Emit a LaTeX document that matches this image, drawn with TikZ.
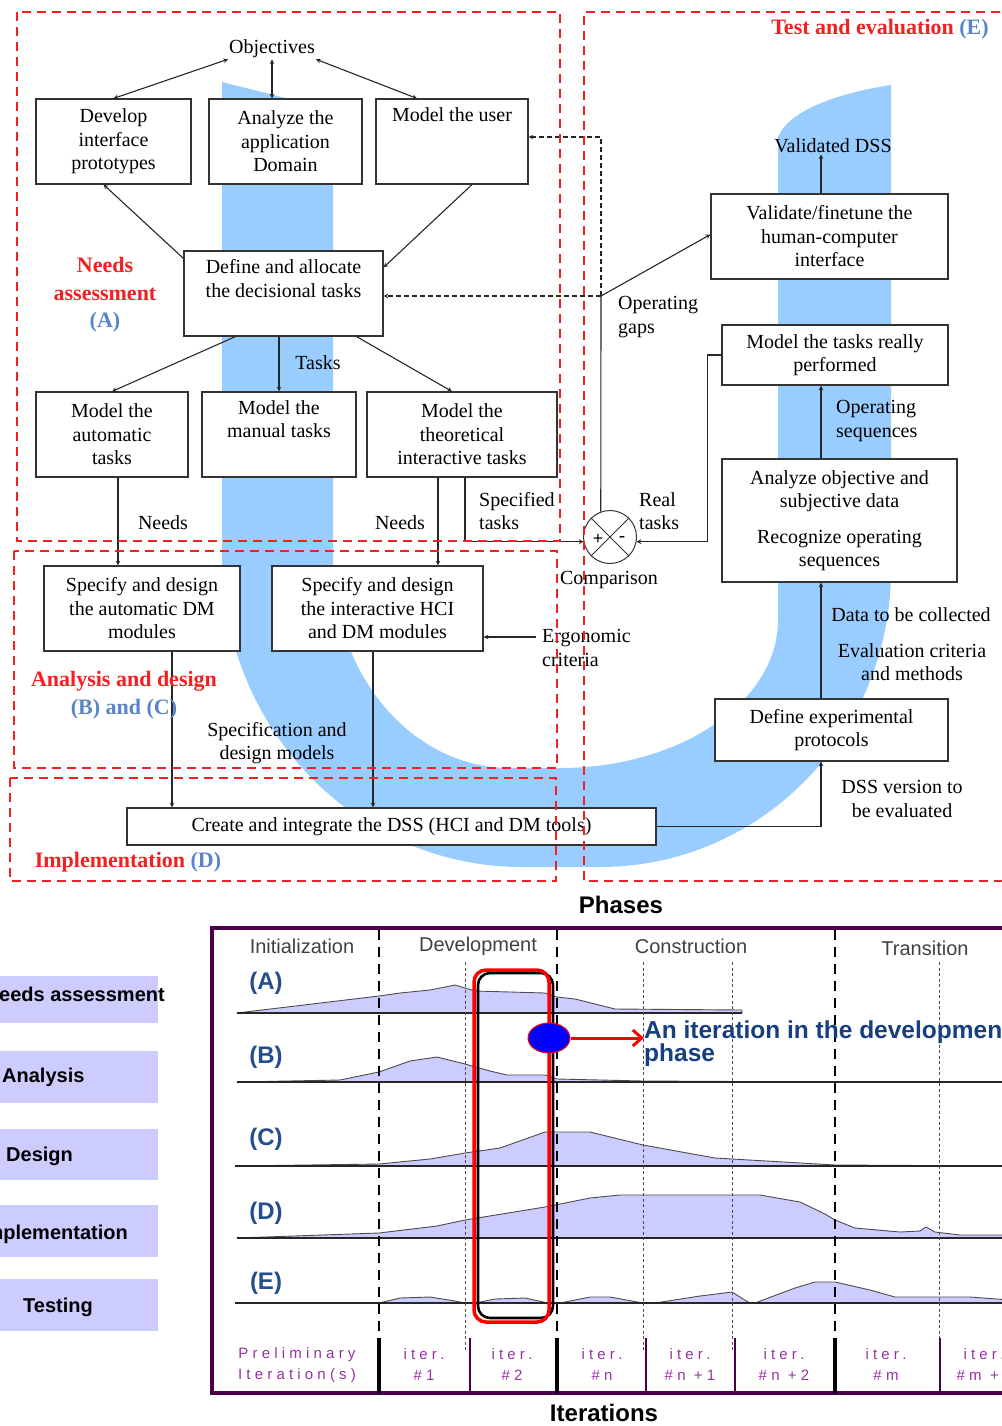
\documentclass[tikz,border=0pt]{standalone}
\usepackage{fontspec}
\usepackage{xcolor}
\setmainfont{Liberation Serif}
\setsansfont{Liberation Sans}
\newfontfamily\iterfont[LetterSpace=28]{Liberation Sans}
\usetikzlibrary{arrows.meta,shapes.geometric}

\definecolor{zonered}{RGB}{242,32,32}
\definecolor{zoneblue}{RGB}{88,132,200}
\definecolor{bandblue}{RGB}{153,204,255}
\definecolor{lavender}{RGB}{204,204,255}
\definecolor{framepurple}{RGB}{75,0,75}
\definecolor{iterpurple}{RGB}{150,50,160}
\definecolor{rowblue}{RGB}{38,78,140}
\definecolor{notenavy}{RGB}{22,62,128}

\begin{document}
\begin{tikzpicture}[
    x=1pt, y=-1pt,
    box/.style={
        rectangle, draw=black!80, line width=1.1pt,
        fill=white, inner sep=0pt,
        align=center,
        font=\fontsize{20}{23.5}\selectfont   % text of the boxes
    },
    txt/.style={align=center, inner sep=1pt, font=\fontsize{20}{23.5}\selectfont},
    ltxt/.style={txt, align=left, anchor=west},
    zone/.style={draw=zonered, line width=2.2pt, dash pattern=on 9pt off 6pt},
    zonetxt/.style={align=center, text=zonered, font=\fontsize{22}{27.5}\selectfont\bfseries},
    arrow/.style={->, >=stealth, line width=1.1pt, draw=black!85},
    twoway/.style={arrow, <->},
    gapline/.style={arrow, dash pattern=on 5pt off 3pt},
    lane/.style={fill=lavender},
    lanetxt/.style={inner sep=0pt, font=\sffamily\bfseries\fontsize{20}{24}\selectfont},
    phasetxt/.style={text=black!75, font=\sffamily\fontsize{20}{24}\selectfont},
    rowtxt/.style={text=rowblue, font=\sffamily\bfseries\fontsize{24}{27}\selectfont},
    itertxt/.style={align=center, text=iterpurple, font=\iterfont\fontsize{15}{21}\selectfont},
    loadcurve/.style={fill=lavender, draw=black!70, line width=0.9pt, line join=round},
    rowbase/.style={line width=1.5pt, draw=black!85},
    phasedash/.style={line width=2.6pt, dash pattern=on 10pt off 7pt},
    iterdot/.style={line width=1pt, draw=black!70, dash pattern=on 3pt off 2.5pt},
    phasetick/.style={line width=4.5pt, draw=black},
    itertick/.style={line width=2.4pt, draw=framepurple}
]
\useasboundingbox (0,0) rectangle (1001,1426);

% --- U band (background) ---
\fill[bandblue] (222,82) -- (222,557)
    .. controls (222,728) and (356,867) .. (522,867) -- (600,867)
    .. controls (761,867) and (891,734) .. (891,570) -- (891,85)
    .. controls (845,92) and (790,108) .. (778,137) -- (778,620)
    .. controls (778,702) and (680,768) .. (560,768) -- (510,768)
    .. controls (412,768) and (333,675) .. (333,560) -- (333,110) -- cycle;

% --- Needs assessment (A) ---
\node[txt] (obj) at (272,49) {Objectives};
\node[box, minimum width=155pt, minimum height=85pt] (proto) at (113.5,141.5) {Develop\\interface\\prototypes};
\node[box, minimum width=153pt, minimum height=85pt] (domain) at (285.5,141.5) {Analyze the\\application\\Domain};
\node[box, minimum width=152pt, minimum height=85pt] (user) at (452,141.5) {Model the user\\ \strut\\ \strut};
\node[box, minimum width=199pt, minimum height=85pt] (alloc) at (283.5,293.5) {Define and allocate\\the decisional tasks\\ \strut};
\node[box, minimum width=152pt, minimum height=85pt] (auto) at (112,434.5) {Model the\\automatic\\tasks};
\node[box, minimum width=154pt, minimum height=85pt] (manual) at (279,434.5) {Model the\\manual tasks\\ \strut};
\node[box, minimum width=190pt, minimum height=85pt] (theo) at (462,434.5) {Model the\\theoretical\\interactive tasks};

% --- Analysis and design (B, C), implementation (D) ---
\node[box, minimum width=196pt, minimum height=85pt] (specdm) at (142,608.5) {Specify and design\\the automatic DM\\modules};
\node[box, minimum width=211pt, minimum height=85pt] (spechci) at (377.5,608.5) {Specify and design\\the interactive HCI\\and DM modules};
\node[box, minimum width=529pt, minimum height=37pt] (create) at (391.5,826.5) {Create and integrate the DSS (HCI and DM tools)};

% --- Test and evaluation (E) ---
\node[txt] (dss) at (833,146) {Validated DSS};
\node[box, minimum width=237pt, minimum height=85pt] (validate) at (829.5,236.5) {Validate/finetune the\\human-computer\\interface};
\node[box, minimum width=226pt, minimum height=60pt] (real) at (835,355) {Model the tasks really\\performed};
\node[box, minimum width=235pt, minimum height=123pt] (analyze) at (839.5,520.5) {Analyze objective and\\subjective data\\[12pt]Recognize operating\\sequences};
\node[box, minimum width=233pt, minimum height=62pt] (protocols) at (831.5,730) {Define experimental\\protocols};

% --- Comparison ---
\node[circle, draw=black!80, line width=1pt, fill=white, minimum size=53pt, inner sep=0pt] (comp) at (610,537) {};
\draw[line width=0.8pt, black!80] (comp.45) -- (comp.225) (comp.135) -- (comp.315);
\node[font=\bfseries\fontsize{18}{18}\selectfont] (plus) at (598,539) {+};
\node[font=\bfseries\fontsize{18}{18}\selectfont] (minus) at (622,539) {-};
\node[txt] (compare) at (609,580) {Comparison};

% --- Arrows ---
\draw[twoway] (obj.south west) -- (proto.north);
\draw[twoway] (obj.south) -- (obj.south |- domain.north);
\draw[twoway] (obj.south east) -- ([xshift=-35pt]user.north);
\draw[arrow] ([yshift=-8pt]alloc.north west) -- ([xshift=-10pt]proto.south);
\draw[arrow] ([xshift=20pt]user.south) -- ([yshift=-17pt]alloc.north east);
\draw[arrow] ([xshift=-48pt]alloc.south) -- (auto.north);
\draw[arrow] (alloc.south -| manual.north) -- (manual.north);
\draw[arrow] ([xshift=73pt]alloc.south) -- ([xshift=-10pt]theo.north);

\coordinate (gap) at (601,296);
\draw[gapline] (gap) -- (gap -| alloc.east);
\draw[gapline] (gap) |- ([yshift=4.5pt]user.east);
\draw[arrow] (gap) -- ([yshift=2pt]validate.west);
\draw[line width=1.1pt, black!85] (gap) -- (comp.110);

\draw[arrow] ([xshift=3pt]theo.south) |- (comp.190);   % specified tasks
\draw[arrow] (real.west) -- ++(-14,0) |- (comp.350);  % real tasks
\draw[arrow] ([xshift=6pt]auto.south) -- ([xshift=6pt]auto.south |- specdm.north);
\draw[arrow] ([xshift=-24pt]theo.south) -- ([xshift=-24pt]theo.south |- spechci.north);
\draw[arrow] ([xshift=30pt]specdm.south) -- ([xshift=30pt]specdm.south |- create.north);
\draw[arrow] ([xshift=-4.5pt]spechci.south) -- ([xshift=-4.5pt]spechci.south |- create.north);
\coordinate (ergo) at (536,637);
\draw[arrow] (ergo) -- (ergo -| spechci.east);

\coordinate (spine) at (821,0);
\draw[arrow] (create.east) -| (spine |- protocols.south);
\draw[arrow] (protocols.north -| spine) -- (analyze.south -| spine);
\draw[arrow] (analyze.north -| spine) -- (real.south -| spine);
\draw[arrow] (validate.north -| spine) -- (dss.south -| spine);

% --- Labels on the arrows ---
\node[txt] (tasks) at (318,363) {Tasks};
\node[txt] (needsa) at (163,523) {Needs};
\node[txt] (needsb) at (400,523) {Needs};
\node[ltxt] (spectasks) at (478,511) {Specified\\tasks};
\node[ltxt] (realtasks) at (638,511) {Real\\tasks};
\node[ltxt] (gaps) at (617,317) {Operating\\gaps};
\node[ltxt] (seqs) at (835,421) {Operating\\sequences};
\node[txt] (collect) at (911,615) {Data to be collected};
\node[txt] (criteria) at (912,662) {Evaluation criteria\\and methods};
\node[txt] (version) at (902,799) {DSS version to\\be evaluated};
\node[ltxt] (ergonomic) at (541,648) {Ergonomic\\criteria};
\node[txt] (models) at (277,743) {Specification and\\design models};

% --- Red dashed zones ---
\draw[zone] (17,12) rectangle (560,541);
\draw[zone] (1015,12) -- (584,12) -- (584,881) -- (1015,881);
\draw[zone] (14,551) rectangle (557,768);
\draw[zone] (10,778) rectangle (556,881);
\node[zonetxt] (zonea) at (105,295) {Needs\\assessment\\\textcolor{zoneblue}{(A)}};
\node[zonetxt] (zonebc) at (124,695) {Analysis and design\\\textcolor{zoneblue}{(B) and (C)}};
\node[zonetxt] (zoned) at (128,862) {Implementation \textcolor{zoneblue}{(D)}};
\node[zonetxt] (zonee) at (880,29) {Test and evaluation \textcolor{zoneblue}{(E)}};

% --- Phases and iterations chart ---
\node[font=\sffamily\bfseries\fontsize{24}{28}\selectfont] (phases) at (621,905) {Phases};
\node[font=\sffamily\bfseries\fontsize{24}{28}\selectfont] (iters) at (604,1413) {Iterations};

\fill[lane] (-10,976) rectangle (158,1023);
\fill[lane] (-10,1051) rectangle (158,1103);
\fill[lane] (-10,1129) rectangle (158,1180);
\fill[lane] (-10,1205) rectangle (158,1257);
\fill[lane] (-10,1279) rectangle (158,1331);
\node[lanetxt, anchor=base east] (needslane) at (165,1001) {Needs assessment};
\node[lanetxt, anchor=base west] (analane) at (2,1082) {Analysis};
\node[lanetxt, anchor=base west] (designlane) at (6,1161) {Design};
\node[lanetxt, anchor=base east] (impllane) at (128,1239) {Implementation};
\node[lanetxt, anchor=base west] (testlane) at (23,1312) {Testing};

% curves (A) to (E)
\draw[loadcurve] (237,1013) -- (379,996) -- (400,993) -- (430,990) -- (455,985) -- (465,988) -- (475,991)
    -- (545,993) -- (557,997) -- (575,999) -- (615,1009) -- (742,1010) -- (742,1013) -- cycle;
\draw[loadcurve] (237,1082) -- (340,1080) -- (379,1072) -- (410,1061) -- (437,1057) -- (465,1064) -- (490,1071)
    -- (507,1075) -- (545,1075) -- (557,1079) -- (643,1081) -- (835,1082) -- cycle;
\draw[loadcurve] (237,1166) -- (379,1164) -- (430,1159) -- (465,1153) -- (500,1148) -- (545,1132) -- (590,1132)
    -- (643,1145) -- (715,1158) -- (835,1165) -- (1010,1166) -- cycle;
\draw[loadcurve] (237,1238) -- (379,1233) -- (437,1226) -- (465,1220) -- (545,1207) -- (590,1198) -- (620,1195)
    -- (760,1195) -- (800,1202) -- (825,1214) -- (835,1220) -- (855,1228) -- (900,1232) -- (920,1231)
    -- (926,1227) -- (935,1232) -- (960,1235) -- (1010,1235) -- (1010,1238) -- cycle;
\draw[loadcurve] (379,1303) -- (400,1298) -- (430,1297) -- (455,1301) -- (465,1303) -- cycle
    (475,1303) -- (495,1299) -- (525,1298) -- (548,1303) -- cycle
    (560,1303) -- (590,1297) -- (610,1297) -- (643,1303) -- cycle
    (655,1303) -- (700,1296) -- (732,1292) -- (748,1302) -- (752,1303) -- cycle
    (755,1303) -- (795,1288) -- (815,1282) -- (835,1282) -- (870,1290) -- (895,1297) -- (970,1297)
    -- (1010,1300) -- (1010,1303) -- cycle;
\draw[rowbase] (237,1013) -- (742,1013);
\draw[rowbase] (237,1082) -- (1010,1082);
\draw[rowbase] (235,1166) -- (1010,1166);
\draw[rowbase] (237,1238) -- (1010,1238);
\draw[rowbase] (235,1303) -- (1010,1303);

% phase limits and iteration limits
\draw[phasedash] (379,930) -- (379,1338);
\draw[phasedash] (557,930) -- (557,1338);
\draw[phasedash] (835,930) -- (835,1338);
\draw[iterdot] (465,962) -- (465,1350);
\draw[iterdot] (643,962) -- (643,1350);
\draw[iterdot] (732,962) -- (732,1350);
\draw[iterdot] (939,962) -- (939,1350);

% one iteration of the development phase
\draw[black, line width=2.6pt, rounded corners=12pt] (478,973) rectangle (553,1318);
\draw[red, line width=3.5pt, rounded corners=12pt] (474,970) rectangle (549,1322);
\node[ellipse, draw=red, fill=blue, line width=1pt, minimum width=42pt, minimum height=30pt, inner sep=0pt] (iterspot) at (549,1038) {};
\node[anchor=west, align=left, inner sep=0pt, text=notenavy,
      font=\sffamily\bfseries\fontsize{24.5}{23}\selectfont] (note) at (644,1044) {An iteration in the development\\phase};
\draw[red, line width=3pt, -{Straight Barb[length=9pt, width=16pt]}] (iterspot.east) -- (iterspot.east -| note.west);

\node[phasetxt] (init) at (302,946) {Initialization};
\node[phasetxt] (devel) at (478,946) {Development};
\node[phasetxt] (constr) at (691,946) {Construction};
\node[phasetxt] (trans) at (925,948) {Transition};
\node[rowtxt] (rowa) at (266,983) {(A)};
\node[rowtxt] (rowb) at (266,1057) {(B)};
\node[rowtxt] (rowc) at (266,1139) {(C)};
\node[rowtxt] (rowd) at (266,1213) {(D)};
\node[rowtxt] (rowe) at (266,1283) {(E)};

% frame and iteration row
\draw[framepurple, line width=3.2pt] (1010,928) -- (212,928) -- (212,1393) -- (1010,1393);
\draw[phasetick] (379,1338) -- (379,1393);
\draw[phasetick] (557,1338) -- (557,1393);
\draw[phasetick] (835,1338) -- (835,1393);
\draw[itertick] (470,1338) -- (470,1393);
\draw[itertick] (646,1338) -- (646,1393);
\draw[itertick] (735,1338) -- (735,1393);
\draw[itertick] (940,1338) -- (940,1393);
\node[itertxt] (it0) at (297,1365) {Preliminary\\Iteration(s)};
\node[itertxt] (it1) at (424,1365) {iter.\\\#1};
\node[itertxt] (it2) at (512,1365) {iter.\\\#2};
\node[itertxt] (itn) at (602,1365) {iter.\\\#n};
\node[itertxt] (itn1) at (690,1365) {iter.\\\#n +1};
\node[itertxt] (itn2) at (784,1365) {iter.\\\#n +2};
\node[itertxt] (itm) at (886,1365) {iter.\\\#m};
\node[itertxt] (itm1) at (984,1365) {iter.\\\#m +1};

\end{tikzpicture}
\end{document}
